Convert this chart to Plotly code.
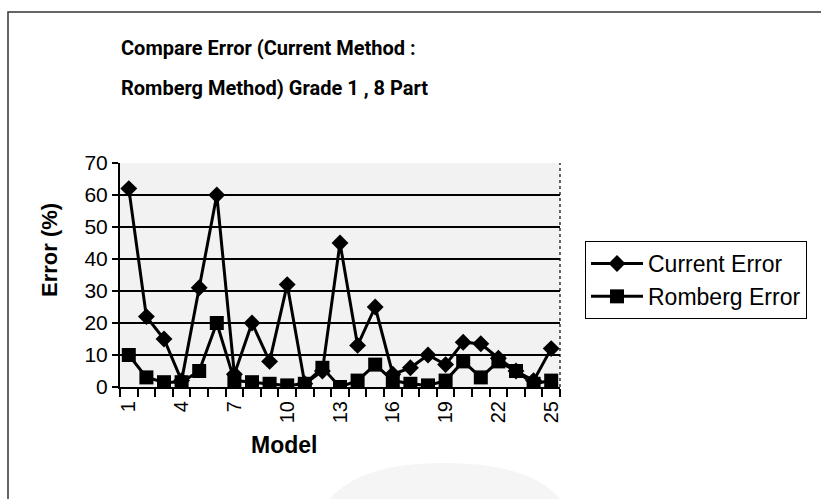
import plotly.graph_objects as go

# Model numbers and the two error series (percent)
models = list(range(1, 26))
current_error = [62, 22, 15, 2, 31, 60, 4, 20, 8, 32, 1, 5, 45, 13, 25,
                 4, 6, 10, 7, 14, 13.5, 9, 5, 2, 12]
romberg_error = [10, 3, 1.5, 1.5, 5, 20, 2, 1.5, 1, 0.5, 1, 6, 0, 2, 7,
                 2, 1, 0.5, 2, 8, 3, 8, 5, 1, 2]

x_tick_labels = [1, 4, 7, 10, 13, 16, 19, 22, 25]
y_tick_values = [0, 10, 20, 30, 40, 50, 60, 70]

title_lines = ["Compare Error (Current Method :", "Romberg Method) Grade 1 , 8 Part"]
x_title = "Model"
y_title = "Error (%)"

FONT = "Liberation Sans, Arial, sans-serif"
TITLE_FONT = "Roboto, Liberation Sans, sans-serif"
W, H = 821, 499
L, R, T, B = 120, 261, 163, 112
PW, PH = W - L - R, H - T - B


def px(x):
    return (x - L) / PW


def py(y):
    return (H - B - y) / PH


fig = go.Figure()
fig.add_trace(go.Scatter(
    x=models, y=current_error, name="Current Error", mode="lines+markers",
    line=dict(color="black", width=3),
    marker=dict(symbol="diamond", size=13, color="black"),
    legendgroup="a",
))
fig.add_trace(go.Scatter(
    x=models, y=romberg_error, name="Romberg Error", mode="lines+markers",
    line=dict(color="black", width=3),
    marker=dict(symbol="square", size=14, color="black"),
    legendgroup="b",
))

shapes = [
    # chart-area frame
    dict(type="rect", xref="paper", yref="paper",
         x0=px(8), x1=px(840), y0=py(520), y1=py(12),
         line=dict(color="#333", width=1.5), layer="below"),
    # right edge of the plot area
    dict(type="line", xref="paper", yref="paper", x0=1, x1=1, y0=0, y1=1,
         line=dict(color="black", width=1.2, dash="dot")),
    # faint seal at the foot of the page
    dict(type="path", xref="paper", yref="paper",
         path=" ".join([
             f"M{px(318)},{py(520)}",
             f"Q{px(338)},{py(463)} {px(445)},{py(463)}",
             f"Q{px(552)},{py(463)} {px(572)},{py(520)} Z",
         ]),
         fillcolor="#f5f5f5", line=dict(width=0), layer="below"),
]

annotations = [
    dict(text=f"<b>{title_lines[0]}</b>", xref="paper", yref="paper",
         x=px(119), y=py(48), xanchor="left", yanchor="middle",
         showarrow=False, font=dict(family=TITLE_FONT, size=20, color="black")),
    dict(text=f"<b>{title_lines[1]}</b>", xref="paper", yref="paper",
         x=px(119), y=py(88), xanchor="left", yanchor="middle",
         showarrow=False, font=dict(family=TITLE_FONT, size=20, color="black")),
    dict(text=f"<b>{x_title}</b>", xref="paper", yref="paper",
         x=px(284), y=py(445), xanchor="center", yanchor="middle",
         showarrow=False, font=dict(family=FONT, size=23, color="black")),
    dict(text=f"<b>{y_title}</b>", xref="paper", yref="paper",
         x=px(49), y=py(250), xanchor="center", yanchor="middle", textangle=-90,
         showarrow=False, font=dict(family=FONT, size=22, color="black")),
]

fig.update_layout(
    width=W, height=H,
    margin=dict(l=L, r=R, t=T, b=B, pad=0),
    paper_bgcolor="white",
    plot_bgcolor="#f2f2f2",
    font=dict(family=FONT, color="black"),
    shapes=shapes,
    annotations=annotations,
    showlegend=True,
    legend=dict(
        x=px(585), y=py(241), xanchor="left", yanchor="top",
        bgcolor="white", bordercolor="black", borderwidth=1,
        font=dict(family=FONT, size=23, color="black"),
        tracegroupgap=0, itemwidth=52,
    ),
)

fig.update_xaxes(
    range=[0.5, 25.5],
    tickmode="array", tickvals=x_tick_labels,
    ticktext=[str(v) for v in x_tick_labels],
    tickangle=-90, ticks="outside", ticklen=4, tickcolor="rgba(0,0,0,0)",
    tickfont=dict(family=FONT, size=20, color="black"),
    minor=dict(tickmode="array", tickvals=[m + 0.5 for m in [0] + models],
               ticks="outside", ticklen=8, tickwidth=1.5, tickcolor="black",
               showgrid=False),
    showgrid=False, zeroline=False,
    showline=True, linecolor="black", linewidth=2,
)

fig.update_yaxes(
    range=[0, 70],
    tickmode="array", tickvals=y_tick_values,
    ticks="outside", ticklen=6, tickwidth=1.5, tickcolor="black",
    tickfont=dict(family=FONT, size=21, color="black"),
    showgrid=True, gridcolor="black", gridwidth=1.6,
    zeroline=False,
    showline=True, linecolor="black", linewidth=2,
)

fig.write_html("out.html")
